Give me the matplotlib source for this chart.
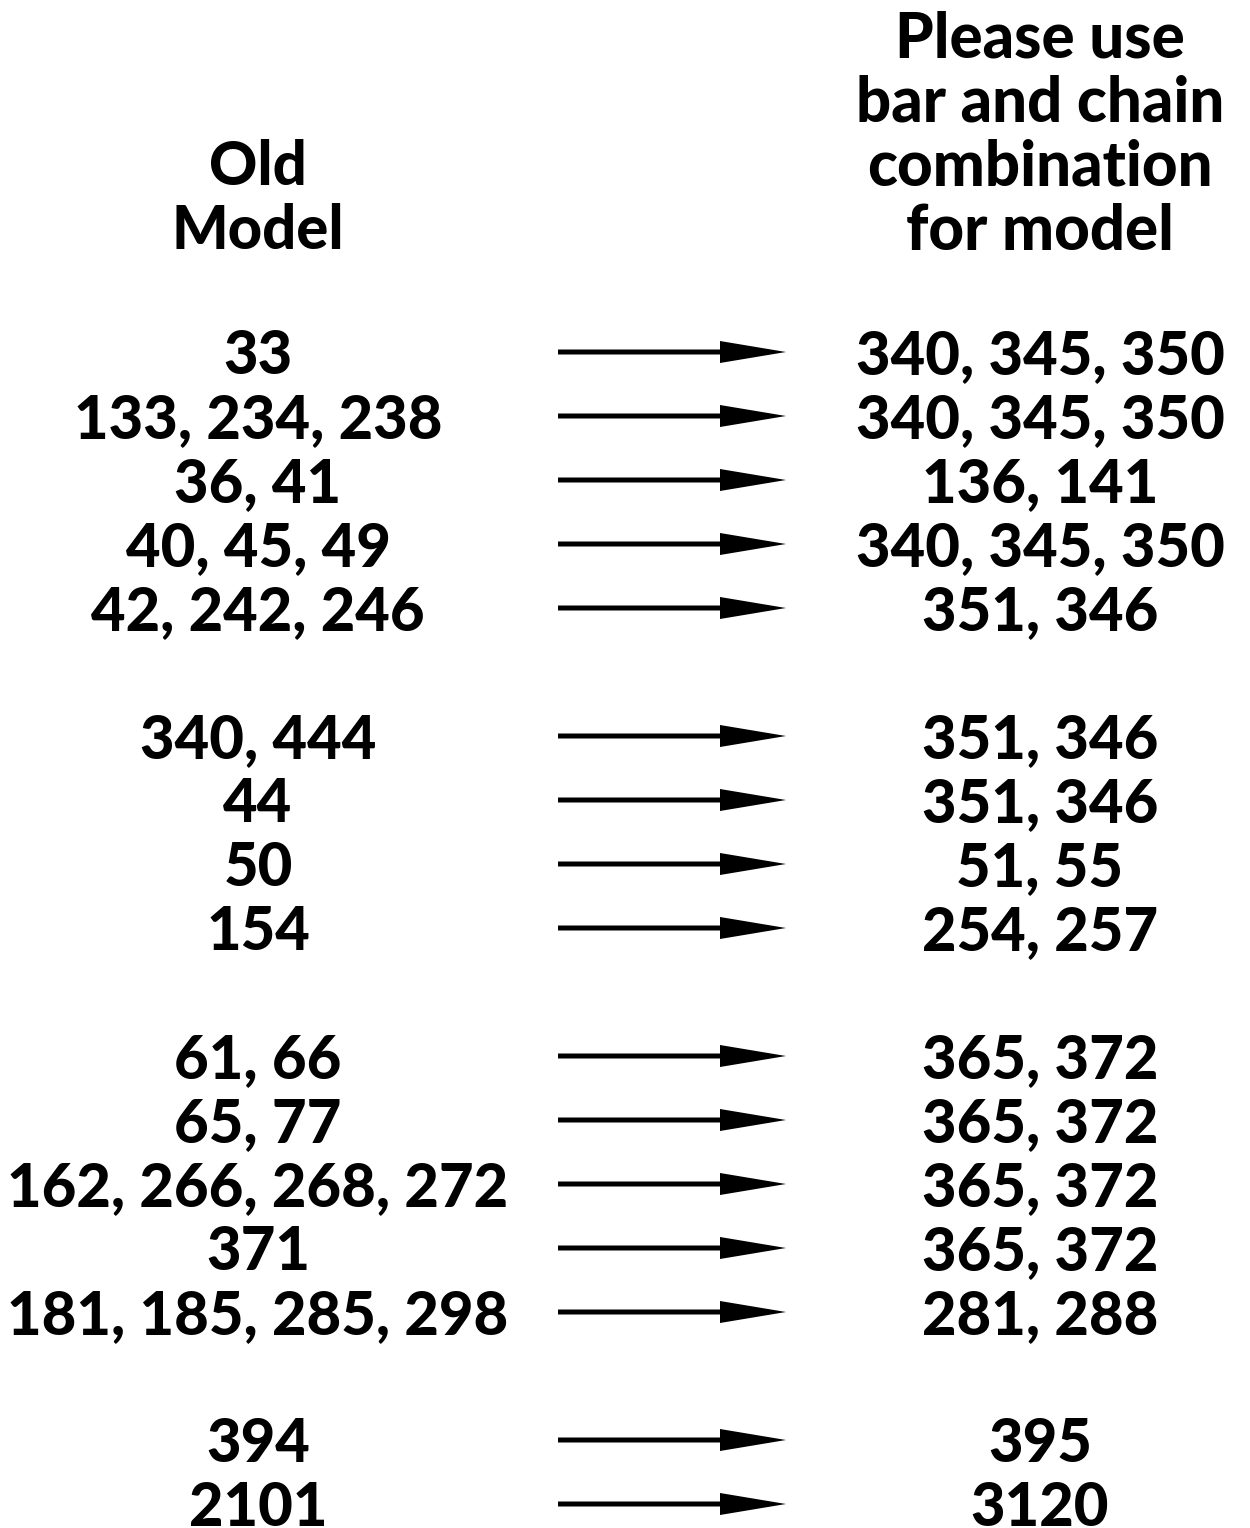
import matplotlib.pyplot as plt

# old model -> replacement combination, blank entries are group gaps
old_models = ["33", "133, 234, 238", "36, 41", "40, 45, 49", "42, 242, 246", None,
              "340, 444", "44", "50", "154", None,
              "61, 66", "65, 77", "162, 266, 268, 272", "371", "181, 185, 285, 298", None,
              "394", "2101"]
new_models = ["340, 345, 350", "340, 345, 350", "136, 141", "340, 345, 350", "351, 346", None,
              "351, 346", "351, 346", "51, 55", "254, 257", None,
              "365, 372", "365, 372", "365, 372", "365, 372", "281, 288", None,
              "395", "3120"]
left_header = ["Old", "Model"]
right_header = ["Please use", "bar and chain", "combination", "for model"]

W, H = 1250, 1528
fig = plt.figure(figsize=(W / 100, H / 100), dpi=100)
ax = fig.add_axes([0, 0, 1, 1])
ax.set_xlim(0, W)
ax.set_ylim(H, 0)
ax.axis('off')

font = dict(family=['Lato', 'DejaVu Sans'], fontweight='black', fontsize=43,
            ha='center', va='center')
x_left, x_right = 258, 1040
y0, step = 356, 64

#headers, bottom aligned on row -2
for i, line in enumerate(left_header):
    ax.text(x_left, y0 + (i - len(left_header) - 1) * step + 3, line, **font)
for i, line in enumerate(right_header):
    ax.text(x_right, y0 + (i - len(right_header) - 1) * step + 3, line,
            **{**font, 'fontsize': 44.5})

for i, (a, b) in enumerate(zip(old_models, new_models)):
    if a is None:
        continue
    y = y0 + i * step
    ax.text(x_left, y, a, **font)
    ax.text(x_right, y, b, **font)
    ax.arrow(558, y - 4, 228, 0, width=5, head_width=22, head_length=66,
             length_includes_head=True, color='black', lw=0)

fig.savefig('out.png', dpi=100)
